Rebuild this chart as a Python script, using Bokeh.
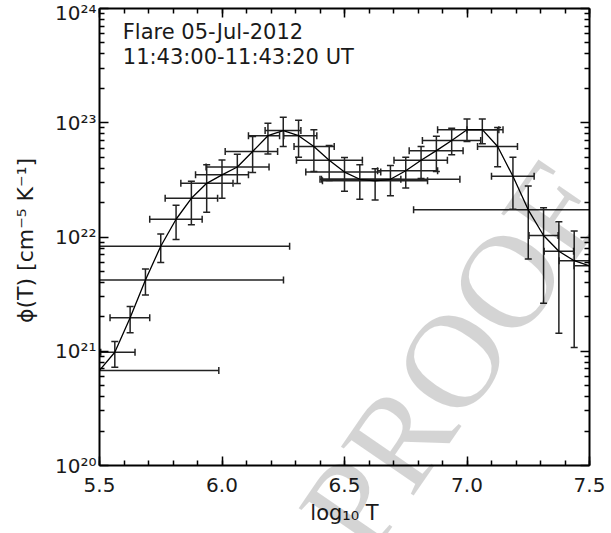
import numpy as np
from bokeh.plotting import figure
from bokeh.layouts import column
from bokeh.models import (ColumnDataSource, FixedTicker, LinearAxis, LogAxis, Range1d,
                          CustomJSTickFormatter, PrintfTickFormatter)
from bokeh.embed import file_html
from bokeh.resources import INLINE
from bokeh.core.properties import value

# ---------------- data ----------------
log_t = [5.5, 5.5625, 5.625, 5.6875, 5.75, 5.8125, 5.875, 5.9375, 6.0, 6.0625, 6.125,
         6.1875, 6.25, 6.3125, 6.375, 6.4375, 6.5, 6.5625, 6.625, 6.6875, 6.75, 6.8125,
         6.875, 6.9375, 7.0, 7.0625, 7.125, 7.1875, 7.25, 7.3125, 7.375, 7.4375, 7.5]

dem = [6.8e20, 9.8e20, 1.96e21, 4.2e21, 8.3e21, 1.43e22, 2.18e22, 2.95e22, 3.5e22, 4.1e22,
       5.6e22, 7.7e22, 8.55e22, 7.7e22, 6.2e22, 4.7e22, 3.7e22, 3.2e22, 3.1e22, 3.2e22,
       3.8e22, 4.7e22, 5.7e22, 7.0e22, 8.7e22, 8.7e22, 6.2e22, 3.4e22, 1.73e22, 1.03e22,
       7.5e21, 6.2e21, 5.6e21]

dem_hi = [None, 1.22e21, 2.46e21, 5.26e21, 1.06e22, 1.9e22, 3.07e22, 4.28e22, 4.73e22, 5.3e22,
          7.57e22, 9.9e22, 1.12e23, 1.05e23, 8.67e22, 6.31e22, 4.96e22, 4.28e22, 3.95e22, 4.22e22,
          4.99e22, 6.19e22, 7.62e22, 8.96e22, 1.08e23, 1.08e23, 9.08e22, 4.99e22, 2.79e22, 1.8e22,
          1.36e22, 1.13e22, None]

dem_lo = [None, 7.23e20, 1.45e21, 3.11e21, 5.97e21, 9.49e21, 1.28e22, 1.65e22, 2.18e22, 2.94e22,
          3.66e22, 5.34e22, 6.19e22, 4.99e22, 3.74e22, 3.12e22, 2.51e22, 2.14e22, 2.11e22, 2.3e22,
          2.69e22, 3.25e22, 3.74e22, 5.24e22, 6.85e22, 6.54e22, 4.13e22, 1.75e22, 6.43e21, 2.63e21,
          1.44e21, 1.08e21, None]

t_lo = [5.40, 5.505, 5.543, 5.40, 5.40, 5.705, 5.768, 5.832, 5.892, 5.935, 6.013, 6.108, 6.176,
        6.252, 6.294, 6.304, 6.342, 6.400, 6.410, 6.406, 6.635, 6.702, 6.764, 6.818, 6.880,
        7.000, 7.043, 7.100, 6.782, 7.253, 7.315, 7.376, 7.437]

t_hi = [5.987, 5.645, 5.705, 6.251, 6.276, 5.919, 5.982, 6.045, 6.108, 6.192, 6.227, 6.235, 6.322,
        6.387, 6.458, 6.573, 6.648, 6.730, 6.839, 6.971, 6.880, 6.920, 6.984, 7.056, 7.147,
        7.130, 7.206, 7.274, 7.600, 7.372, 7.435, 7.500, 7.600]

x_ticks = [5.5, 6.0, 6.5, 7.0, 7.5]
y_ticks = [1e20, 1e21, 1e22, 1e23, 1e24]
title_lines = ["Flare 05-Jul-2012", "11:43:00-11:43:20 UT"]
watermark = ["PROOF"]

W, H = 611, 533

# ---------------- main figure ----------------
p = figure(width=W, height=H, x_range=(5.5, 7.5), y_range=(1e20, 1e24),
           y_axis_type="log", output_backend="svg", toolbar_location=None,
           min_border_left=99, min_border_right=22, min_border_top=8, min_border_bottom=68)
p.grid.visible = False
p.outline_line_color = None
p.background_fill_color = "white"
p.border_fill_color = "white"

FONT = "DejaVu Sans"
INK = "#1a1a1a"

x_minor = [round(5.5 + 0.1 * i, 2) for i in range(21)]
y_minor = [m * 10.0 ** e for e in range(20, 24) for m in range(2, 10)]

sup_js = """
const sup = {"0":"\u2070","1":"\u00b9","2":"\u00b2","3":"\u00b3","4":"\u2074","5":"\u2075",
             "6":"\u2076","7":"\u2077","8":"\u2078","9":"\u2079","-":"\u207b"};
const e = Math.round(Math.log10(tick));
return "10" + String(e).split("").map(c => sup[c]).join("");
"""

def style_axis(ax):
    ax.axis_line_width = 2
    ax.axis_line_color = "black"
    ax.major_tick_in = 9
    ax.major_tick_out = 0
    ax.minor_tick_in = 5
    ax.minor_tick_out = 0
    ax.major_tick_line_width = 1.5
    ax.minor_tick_line_width = 1.5
    ax.major_tick_line_color = "black"
    ax.minor_tick_line_color = "black"
    ax.major_label_text_font = FONT
    ax.axis_label_text_font = FONT
    ax.axis_label_text_font_style = "normal"
    ax.major_label_text_color = INK
    ax.axis_label_text_color = INK

xb = p.xaxis[0]
xb.ticker = FixedTicker(ticks=x_ticks, minor_ticks=x_minor)
xb.formatter = PrintfTickFormatter(format="%.1f")
style_axis(xb)
xb.major_label_text_font_size = "20px"
xb.major_label_standoff = 12
xb.axis_label = "log\u2081\u2080 T"
xb.axis_label_text_font_size = "21px"
xb.axis_label_standoff = 6

yl = p.yaxis[0]
yl.ticker = FixedTicker(ticks=y_ticks, minor_ticks=y_minor)
yl.formatter = CustomJSTickFormatter(code=sup_js)
style_axis(yl)
yl.major_label_text_font_size = "20px"
yl.major_label_standoff = 3
yl.axis_label = "\u03d5(T)  [cm\u207b\u2075 K\u207b\u00b9]"
yl.axis_label_text_font_size = "22px"
yl.axis_label_standoff = 14

xt = LinearAxis(ticker=FixedTicker(ticks=x_ticks, minor_ticks=x_minor),
                formatter=CustomJSTickFormatter(code="return ''"))
style_axis(xt)
xt.major_label_text_font_size = "1px"
xt.major_label_standoff = 0
p.add_layout(xt, "above")
yr = LogAxis(ticker=FixedTicker(ticks=y_ticks, minor_ticks=y_minor),
             formatter=CustomJSTickFormatter(code="return ''"))
style_axis(yr)
yr.major_label_text_font_size = "1px"
yr.major_label_standoff = 0
p.add_layout(yr, "right")

src = ColumnDataSource(dict(
    t=np.array(log_t, dtype=float),
    dem=np.array(dem, dtype=float),
    lo=np.array(dem_lo, dtype=float),
    hi=np.array(dem_hi, dtype=float),
    tlo=np.array(t_lo, dtype=float),
    thi=np.array(t_hi, dtype=float),
))

BAR = "#222222"
BW = 1.5
p.segment(x0="t", y0="lo", x1="t", y1="hi", source=src, line_color=BAR, line_width=BW)
p.scatter(x="t", y="lo", marker="dash", size=7, source=src, line_color=BAR, line_width=BW)
p.scatter(x="t", y="hi", marker="dash", size=7, source=src, line_color=BAR, line_width=BW)
p.segment(x0="tlo", y0="dem", x1="thi", y1="dem", source=src, line_color=BAR, line_width=BW)
p.scatter(x="tlo", y="dem", marker="dash", size=7, angle=np.pi / 2, source=src,
          line_color=BAR, line_width=BW)
p.scatter(x="thi", y="dem", marker="dash", size=7, angle=np.pi / 2, source=src,
          line_color=BAR, line_width=BW)
p.line(x="t", y="dem", source=src, line_color="black", line_width=1.3)

p.text(x=[5.595, 5.595], y=[10 ** 23.79, 10 ** 23.572], text=title_lines,
       text_font=value(FONT), text_font_size="21px", text_color=INK,
       text_align="left", text_baseline="alphabetic")

# ---------------- transparent overlay carrying the "PROOF" watermark ----------------
ov = figure(width=W, height=H, x_range=Range1d(0, W), y_range=Range1d(0, H),
            output_backend="svg", toolbar_location=None, min_border=0,
            x_axis_location=None, y_axis_location=None)
ov.grid.visible = False
ov.outline_line_color = None
ov.background_fill_color = None
ov.border_fill_color = None
ov.text(x=[442], y=[H - 357], text=watermark, angle=55.5, angle_units="deg",
        text_font=value("Liberation Serif"), text_font_size="134px", text_color="black",
        text_alpha=0.17, text_align="center", text_baseline="middle")
ov.margin = (-H, 0, 0, 0)

layout = column(p, ov, margin=0, spacing=0)
p.margin = 0

open("out.html", "w").write(file_html(layout, INLINE))
